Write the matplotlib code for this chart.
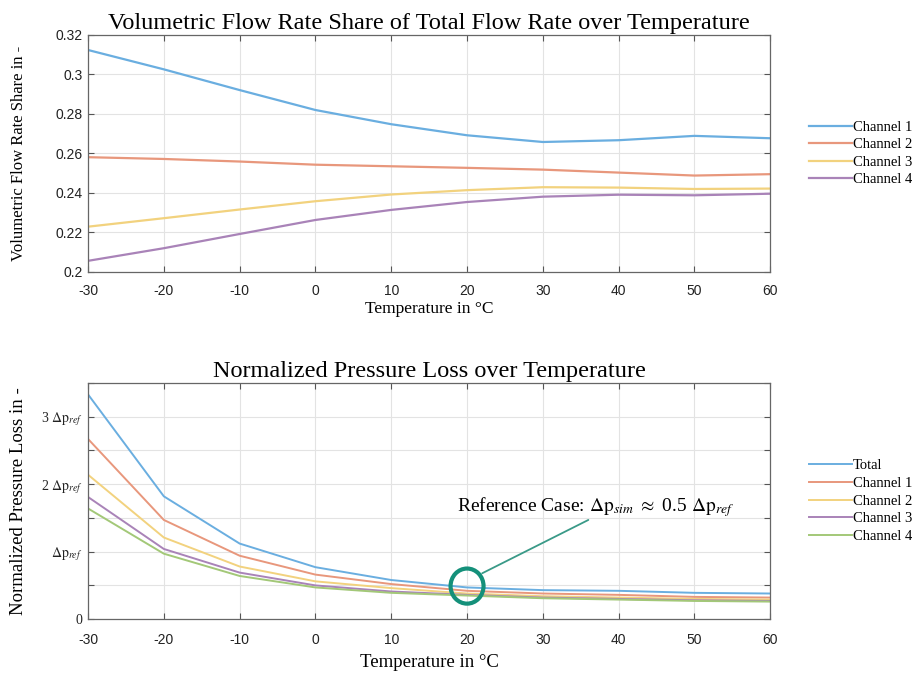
import matplotlib
matplotlib.use("Agg")
import matplotlib.pyplot as plt
from matplotlib.patches import Ellipse

# ---------------- data ----------------
temps = [-30, -20, -10, 0, 10, 20, 30, 40, 50, 60]

share_ch1 = [0.3124, 0.3026, 0.2921, 0.2820, 0.2748, 0.2692, 0.2658, 0.2667, 0.2689, 0.2677]
share_ch2 = [0.2581, 0.2572, 0.2559, 0.2543, 0.2535, 0.2527, 0.2518, 0.2503, 0.2488, 0.2495]
share_ch3 = [0.2229, 0.2272, 0.2316, 0.2358, 0.2392, 0.2414, 0.2429, 0.2427, 0.2420, 0.2422]
share_ch4 = [0.2056, 0.2120, 0.2192, 0.2263, 0.2314, 0.2354, 0.2381, 0.2391, 0.2388, 0.2396]

loss_total = [3.33, 1.82, 1.12, 0.77, 0.58, 0.47, 0.43, 0.42, 0.39, 0.38]
loss_ch1 = [2.67, 1.47, 0.94, 0.66, 0.52, 0.42, 0.38, 0.36, 0.33, 0.32]
loss_ch2 = [2.14, 1.21, 0.78, 0.56, 0.46, 0.38, 0.34, 0.32, 0.30, 0.29]
loss_ch3 = [1.81, 1.04, 0.69, 0.50, 0.41, 0.36, 0.32, 0.30, 0.28, 0.27]
loss_ch4 = [1.64, 0.97, 0.64, 0.47, 0.39, 0.35, 0.31, 0.29, 0.27, 0.26]

top_labels = ["Channel 1", "Channel 2", "Channel 3", "Channel 4"]
bottom_labels = ["Total", "Channel 1", "Channel 2", "Channel 3", "Channel 4"]

top_yticks = [0.2, 0.22, 0.24, 0.26, 0.28, 0.3, 0.32]
top_yticklabels = ["0.2", "0.22", "0.24", "0.26", "0.28", "0.3", "0.32"]
bottom_yticks = [0, 0.5, 1, 1.5, 2, 2.5, 3, 3.5]
bottom_yticklabels = ["0", "", r"$\Delta\mathrm{p}_{ref}$", "", r"2 $\Delta\mathrm{p}_{ref}$", "",
                      r"3 $\Delta\mathrm{p}_{ref}$", ""]

ref_temp = 20
ref_value = 0.49

colors = ["#6aaee0", "#e8977c", "#f2d27e", "#a983b8", "#a3c878"]
teal = "#14907a"

plt.rcParams["mathtext.fontset"] = "stix"
plt.rcParams["axes.unicode_minus"] = False
SERIF = "Liberation Serif"
SANS = "Liberation Sans"

fig = plt.figure(figsize=(9.17, 6.73), dpi=100)
ax1 = fig.add_axes([0.096, 0.596, 0.744, 0.352])
ax2 = fig.add_axes([0.096, 0.080, 0.744, 0.351])


def style(ax, xpad):
    ax.set_xlim(-30, 60)
    ax.set_xticks(temps)
    ax.grid(True, color="#e3e3e3", linewidth=0.8)
    ax.set_axisbelow(True)
    ax.tick_params(direction="in", length=4, width=0.8, color="#555555",
                   top=True, right=True, labelsize=10, labelcolor="#222222", pad=4)
    ax.tick_params(axis="x", pad=xpad)
    for s in ax.spines.values():
        s.set_color("#666666")
        s.set_linewidth(0.9)
    for lab in ax.get_xticklabels():
        lab.set_family(SANS)


legend_kw = dict(loc="center left", bbox_to_anchor=(1.038, 0.5), frameon=False,
                 prop={"family": SERIF, "size": 10.5}, handlelength=2.9,
                 handletextpad=0.1, labelspacing=0.3)

# ---- top ----
for y, c, lab in zip([share_ch1, share_ch2, share_ch3, share_ch4], colors, top_labels):
    ax1.plot(temps, y, color=c, linewidth=1.6, label=lab)
ax1.set_ylim(0.2, 0.32)
ax1.set_yticks(top_yticks)
ax1.set_yticklabels(top_yticklabels, family=SANS)
style(ax1, 9)
ax1.set_title("Volumetric Flow Rate Share of Total Flow Rate over Temperature",
              family=SERIF, fontsize=17.5, pad=4)
ax1.set_xlabel("Temperature in °C", family=SERIF, fontsize=12.5, labelpad=2)
ax1.set_ylabel("Volumetric Flow Rate Share in -", family=SERIF, fontsize=12, labelpad=20)
ax1.legend(**legend_kw)

# ---- bottom ----
for y, c, lab in zip([loss_total, loss_ch1, loss_ch2, loss_ch3, loss_ch4], colors, bottom_labels):
    ax2.plot(temps, y, color=c, linewidth=1.4, label=lab)
ax2.set_ylim(0, 3.5)
ax2.set_yticks(bottom_yticks)
ax2.set_yticklabels(bottom_yticklabels, family=SERIF, fontsize=13.5)
style(ax2, 10)
ax2.set_title("Normalized Pressure Loss over Temperature", family=SERIF, fontsize=17.5, pad=4)
ax2.set_xlabel("Temperature in °C", family=SERIF, fontsize=13.5, labelpad=5)
ax2.set_ylabel("Normalized Pressure Loss in -", family=SERIF, fontsize=13.5, labelpad=10)
ax2.legend(**legend_kw)

# reference circle + annotation
ax2.add_patch(Ellipse((ref_temp, ref_value), width=4.35, height=0.52, fill=False,
                      edgecolor=teal, linewidth=3.0, zorder=5))
ax2.annotate("", xy=(22.0, 0.68), xytext=(36.0, 1.47),
             arrowprops=dict(arrowstyle="-", color="#3a9a88", linewidth=1.3,
                             shrinkA=0, shrinkB=0))
ax2.text(37.0, 1.66,
         r"Reference Case: $\Delta\mathrm{p}_{sim}$ $\approx$ 0.5 $\Delta\mathrm{p}_{ref}$",
         family=SERIF, fontsize=14, ha="center", va="center")

fig.savefig("out.png", dpi=100)
